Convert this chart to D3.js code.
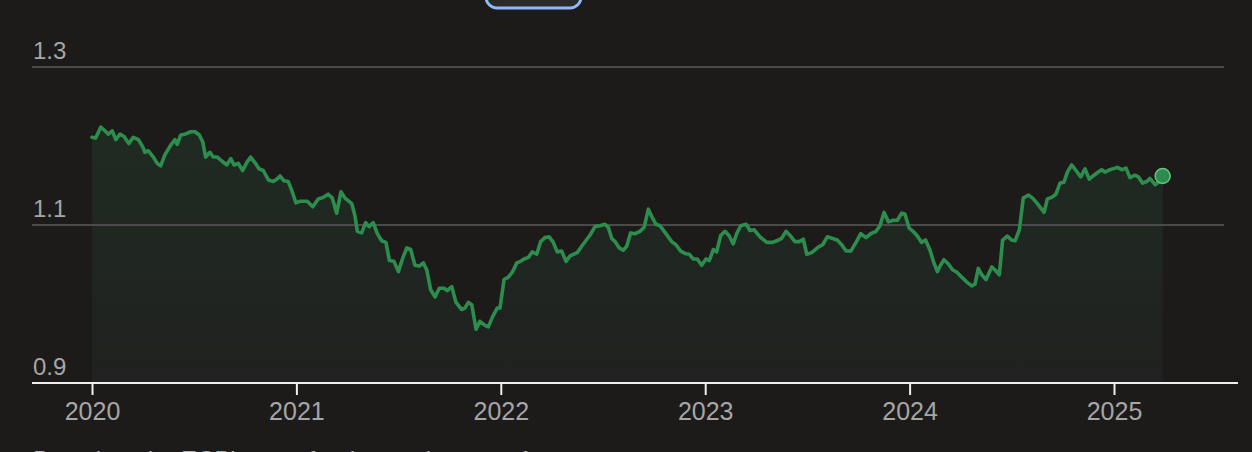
<!DOCTYPE html>
<html>
<head>
<meta charset="utf-8">
<script src="https://cdn.jsdelivr.net/npm/d3@7"></script>
<style>
  html, body { margin: 0; padding: 0; background: #1c1b1a; }
  svg { display: block; }
</style>
</head>
<body>
<svg id="chart" width="1252" height="452"></svg>
<script>
// ---- data (decimal year, value) ----
const years = [
  2020.000, 2020.018, 2020.043, 2020.064, 2020.080, 2020.099, 2020.117, 2020.137, 2020.157, 2020.180,
  2020.202, 2020.227, 2020.248, 2020.259, 2020.275, 2020.300, 2020.319, 2020.336, 2020.357, 2020.385,
  2020.406, 2020.417, 2020.434, 2020.455, 2020.483, 2020.504, 2020.525, 2020.542, 2020.556, 2020.577,
  2020.593, 2020.613, 2020.635, 2020.659, 2020.679, 2020.695, 2020.716, 2020.737, 2020.757, 2020.776,
  2020.797, 2020.818, 2020.838, 2020.863, 2020.887, 2020.904, 2020.920, 2020.939, 2020.960, 2020.977,
  2020.998, 2021.018, 2021.053, 2021.080, 2021.107, 2021.132, 2021.156, 2021.176, 2021.197, 2021.218,
  2021.238, 2021.271, 2021.287, 2021.298, 2021.319, 2021.339, 2021.355, 2021.376, 2021.396, 2021.417,
  2021.438, 2021.455, 2021.477, 2021.499, 2021.520, 2021.540, 2021.559, 2021.580, 2021.601, 2021.621,
  2021.638, 2021.657, 2021.678, 2021.699, 2021.722, 2021.738, 2021.760, 2021.781, 2021.809, 2021.825,
  2021.841, 2021.858, 2021.879, 2021.898, 2021.923, 2021.939, 2021.960, 2021.983, 2021.996, 2022.016,
  2022.037, 2022.058, 2022.078, 2022.097, 2022.114, 2022.135, 2022.154, 2022.176, 2022.195, 2022.216,
  2022.237, 2022.257, 2022.276, 2022.298, 2022.319, 2022.339, 2022.374, 2022.401, 2022.436, 2022.461,
  2022.485, 2022.510, 2022.526, 2022.543, 2022.559, 2022.580, 2022.599, 2022.616, 2022.635, 2022.657,
  2022.681, 2022.701, 2022.722, 2022.738, 2022.759, 2022.779, 2022.808, 2022.836, 2022.857, 2022.880,
  2022.901, 2022.922, 2022.942, 2022.961, 2022.983, 2023.004, 2023.020, 2023.040, 2023.056, 2023.076,
  2023.097, 2023.118, 2023.137, 2023.154, 2023.174, 2023.200, 2023.219, 2023.239, 2023.268, 2023.301,
  2023.330, 2023.350, 2023.374, 2023.395, 2023.418, 2023.439, 2023.460, 2023.480, 2023.497, 2023.521,
  2023.553, 2023.575, 2023.597, 2023.624, 2023.646, 2023.668, 2023.689, 2023.712, 2023.738, 2023.761,
  2023.787, 2023.810, 2023.836, 2023.855, 2023.875, 2023.896, 2023.920, 2023.940, 2023.961, 2023.977,
  2023.998, 2024.017, 2024.038, 2024.059, 2024.078, 2024.100, 2024.119, 2024.136, 2024.149, 2024.168,
  2024.189, 2024.211, 2024.233, 2024.255, 2024.279, 2024.304, 2024.320, 2024.336, 2024.353, 2024.374,
  2024.390, 2024.402, 2024.418, 2024.439, 2024.455, 2024.478, 2024.499, 2024.516, 2024.537, 2024.556,
  2024.581, 2024.602, 2024.625, 2024.646, 2024.658, 2024.674, 2024.695, 2024.716, 2024.736, 2024.755,
  2024.772, 2024.793, 2024.814, 2024.837, 2024.858, 2024.879, 2024.902, 2024.923, 2024.940, 2024.956,
  2024.980, 2025.005, 2025.016, 2025.038, 2025.059, 2025.078, 2025.103, 2025.119, 2025.140, 2025.160,
  2025.176, 2025.201, 2025.222, 2025.238
];
const rates = [
  1.211, 1.210, 1.224, 1.219, 1.215, 1.219, 1.208, 1.215, 1.212, 1.203,
  1.211, 1.208, 1.199, 1.192, 1.194, 1.186, 1.178, 1.175, 1.189, 1.201,
  1.208, 1.202, 1.214, 1.215, 1.218, 1.218, 1.214, 1.205, 1.186, 1.192,
  1.186, 1.186, 1.181, 1.176, 1.184, 1.176, 1.178, 1.169, 1.179, 1.186,
  1.179, 1.171, 1.169, 1.157, 1.155, 1.158, 1.162, 1.156, 1.155, 1.144,
  1.128, 1.130, 1.130, 1.123, 1.133, 1.135, 1.139, 1.134, 1.115, 1.142,
  1.134, 1.127, 1.111, 1.092, 1.090, 1.103, 1.098, 1.103, 1.089, 1.080,
  1.078, 1.055, 1.054, 1.041, 1.058, 1.071, 1.069, 1.049, 1.048, 1.052,
  1.043, 1.018, 1.009, 1.020, 1.020, 1.017, 1.022, 1.002, 0.993, 0.995,
  1.002, 0.999, 0.968, 0.978, 0.973, 0.971, 0.984, 0.995, 0.995, 1.031,
  1.034, 1.041, 1.052, 1.054, 1.057, 1.059, 1.066, 1.063, 1.079, 1.084,
  1.085, 1.078, 1.066, 1.067, 1.054, 1.061, 1.065, 1.075, 1.087, 1.098,
  1.099, 1.101, 1.097, 1.083, 1.079, 1.071, 1.068, 1.073, 1.090, 1.089,
  1.092, 1.097, 1.120, 1.111, 1.101, 1.099, 1.089, 1.079, 1.075, 1.067,
  1.064, 1.063, 1.057, 1.057, 1.049, 1.057, 1.055, 1.069, 1.066, 1.087,
  1.092, 1.086, 1.076, 1.089, 1.099, 1.101, 1.093, 1.094, 1.085, 1.078,
  1.078, 1.080, 1.083, 1.092, 1.086, 1.079, 1.079, 1.082, 1.063, 1.065,
  1.072, 1.075, 1.085, 1.083, 1.081, 1.075, 1.067, 1.067, 1.078, 1.089,
  1.084, 1.089, 1.092, 1.099, 1.116, 1.104, 1.106, 1.106, 1.115, 1.114,
  1.096, 1.092, 1.086, 1.078, 1.081, 1.068, 1.052, 1.041, 1.048, 1.056,
  1.051, 1.043, 1.040, 1.034, 1.028, 1.023, 1.025, 1.045, 1.037, 1.031,
  1.040, 1.047, 1.043, 1.037, 1.081, 1.086, 1.081, 1.080, 1.094, 1.134,
  1.138, 1.134, 1.127, 1.120, 1.116, 1.133, 1.135, 1.139, 1.153, 1.154,
  1.167, 1.176, 1.169, 1.161, 1.171, 1.158, 1.163, 1.167, 1.170, 1.167,
  1.170, 1.172, 1.173, 1.170, 1.172, 1.160, 1.163, 1.161, 1.153, 1.155,
  1.159, 1.151, 1.155, 1.162
];
const xTickValues = [2020, 2021, 2022, 2023, 2024, 2025];
const xTickLabels = ["2020", "2021", "2022", "2023", "2024", "2025"];
const yTickValues = [0.9, 1.1, 1.3];
const yTickLabels = ["0.9", "1.1", "1.3"];
const footnote = "Based on the ECB's euro foreign exchange reference rates";

// ---- layout ----
const svg = d3.select("#chart");
const W = 1252, H = 452;
svg.append("rect").attr("width", W).attr("height", H).attr("fill", "#1c1b1a");

const x = d3.scaleLinear().domain([2020, 2025]).range([92, 1114]);
const y = d3.scaleLinear().domain([0.9, 1.3]).range([383, 67]);
const gridX0 = 32, gridX1 = 1224, axisX1 = 1238;

const data = years.map((t, i) => ({ t, v: rates[i] }));

// top button (partially visible)
svg.append("rect")
  .attr("x", 486).attr("y", -30).attr("width", 95).attr("height", 38)
  .attr("rx", 11).attr("fill", "#2a2a2a")
  .attr("stroke", "#8fbaf8").attr("stroke-width", 3);

// gradient for the area
const defs = svg.append("defs");
const grad = defs.append("linearGradient").attr("id", "areaGrad")
  .attr("gradientUnits", "userSpaceOnUse")
  .attr("x1", 0).attr("x2", 0).attr("y1", y(1.22)).attr("y2", y(0.9));
grad.append("stop").attr("offset", "0%").attr("stop-color", "#1f2b22");
grad.append("stop").attr("offset", "100%").attr("stop-color", "#202120");

// area
const area = d3.area().x(d => x(d.t)).y0(y(0.9)).y1(d => y(d.v));
svg.append("path").datum(data).attr("d", area).attr("fill", "url(#areaGrad)");

// gridlines (1.1, 1.3)
svg.append("g").selectAll("line")
  .data(yTickValues.filter(v => v > 0.9))
  .join("line")
  .attr("x1", gridX0).attr("x2", gridX1)
  .attr("y1", d => y(d)).attr("y2", d => y(d))
  .attr("stroke", "#4a4a4a").attr("stroke-width", 2);

// y labels
svg.append("g").selectAll("text")
  .data(yTickValues)
  .join("text")
  .attr("x", 33)
  .attr("y", d => y(d) - 8.5)
  .attr("fill", "#a6a6a6")
  .attr("font-family", "Liberation Sans, Arial, sans-serif")
  .attr("font-size", 24)
  .text((d, i) => yTickLabels[i]);

// line
const line = d3.line().x(d => x(d.t)).y(d => y(d.v));
svg.append("path").datum(data).attr("d", line)
  .attr("fill", "none").attr("stroke", "#2c8d4d")
  .attr("stroke-width", 3.6).attr("stroke-linejoin", "round").attr("stroke-linecap", "round");

// x axis
const xAxis = d3.axisBottom(x)
  .tickValues(xTickValues)
  .tickFormat((d, i) => xTickLabels[i])
  .tickSize(12).tickPadding(7);
const gx = svg.append("g").attr("transform", `translate(0,${y(0.9)})`).call(xAxis);
gx.select(".domain").remove();
gx.selectAll(".tick line").attr("stroke", "#eeeeee").attr("stroke-width", 2);
gx.selectAll(".tick text")
  .attr("fill", "#a6a6a6")
  .attr("font-family", "Liberation Sans, Arial, sans-serif")
  .attr("font-size", 25);
svg.append("line")
  .attr("x1", gridX0).attr("x2", axisX1)
  .attr("y1", y(0.9)).attr("y2", y(0.9))
  .attr("stroke", "#eeeeee").attr("stroke-width", 2);

// end dot
const last = data[data.length - 1];
svg.append("circle")
  .attr("cx", x(last.t)).attr("cy", y(last.v)).attr("r", 7.5)
  .attr("fill", "#2e8b4e").attr("stroke", "#67c285").attr("stroke-width", 1.5);

// footnote (mostly cut off at the bottom edge, as in the reference)
svg.append("text")
  .attr("x", 33).attr("y", 468)
  .attr("fill", "#b0b0b0")
  .attr("font-family", "Liberation Sans, Arial, sans-serif")
  .attr("font-size", 24)
  .text(footnote);
</script>
</body>
</html>
